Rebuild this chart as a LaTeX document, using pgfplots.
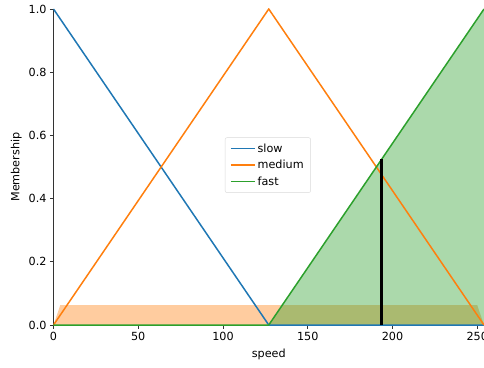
\documentclass[border=0pt]{standalone}
\usepackage{pgfplots}
\pgfplotsset{compat=1.18}
\usepackage{fontspec}
\setmainfont{DejaVu Sans}
\definecolor{c1}{HTML}{1F77B4}
\definecolor{c2}{HTML}{FF7F0E}
\definecolor{c3}{HTML}{2CA02C}
\begin{document}
\begin{tikzpicture}
\begin{axis}[
  scale only axis, width=430.5pt, height=316pt,
  xmin=0, xmax=254, ymin=0, ymax=1,
  axis x line*=bottom, axis y line*=left,
  axis line style={black!80, line width=0.8pt},
  tick style={black!80, line width=0.8pt},
  tick align=outside, major tick length=3.5pt,
  xtick={0,50,100,150,200,250},
  ytick={0,0.2,0.4,0.6,0.8,1.0},
  yticklabel style={/pgf/number format/.cd, fixed, fixed zerofill, precision=1},
  /pgf/number format/assume math mode=true,
  tick label style={font=\fontsize{11.2}{13}\selectfont},
  label style={font=\fontsize{11.2}{13}\selectfont},
  xlabel={speed}, ylabel={Membership},
  xlabel style={yshift=-2pt}, ylabel style={yshift=0pt},
  legend style={at={(0.498,0.506)}, anchor=center, draw=black!15, rounded corners=2pt,
    font=\fontsize{11.2}{13}\selectfont, row sep=2.5pt, inner xsep=5pt, inner ysep=4pt},
  legend image code/.code={\draw[#1] (0pt,0pt) -- (24pt,0pt);},
  legend cell align=left,
  clip=true,
]
\addlegendimage{draw=c1, line width=1.5pt}
\addlegendentry{slow}
\addlegendimage{draw=c2, line width=1.5pt}
\addlegendentry{medium}
\addlegendimage{draw=c3, line width=1.5pt}
\addlegendentry{fast}
\addplot[fill=c2, fill opacity=0.4, draw=none, forget plot] coordinates {(0,0) (4,0.063) (250,0.063) (254,0) } \closedcycle;
\addplot[fill=c3, fill opacity=0.4, draw=none, forget plot] coordinates {(127,0) (254,1) (254,0)} \closedcycle;
\addplot[draw=c1, line width=1.5pt, forget plot] coordinates {(0,1) (127,0) (254,0)};
\addplot[draw=c2, line width=1.5pt, forget plot] coordinates {(0,0) (127,1) (254,0)};
\addplot[draw=c3, line width=1.5pt, forget plot] coordinates {(0,0) (127,0) (254,1)};
\addplot[black, line width=3.2pt, forget plot] coordinates {(193.5,0) (193.5,0.526)};
\end{axis}
\pgfresetboundingbox
\path[use as bounding box] (-53.5pt,-42pt) rectangle (430.5pt,325pt);
\end{tikzpicture}
\end{document}
